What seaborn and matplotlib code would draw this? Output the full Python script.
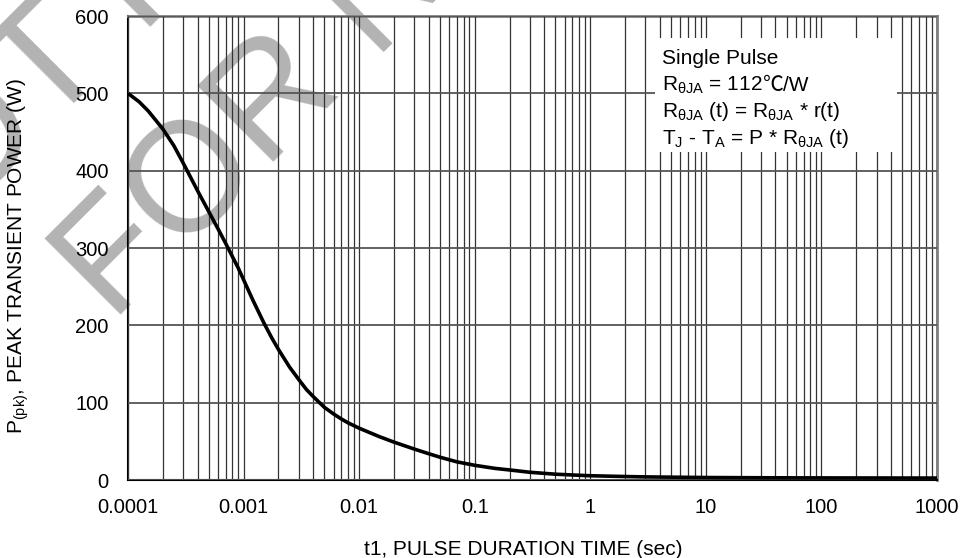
import matplotlib
matplotlib.use("Agg")
import matplotlib.pyplot as plt
import matplotlib.patches as mpatches
import numpy as np
import pandas as pd
import seaborn as sns

# ---- data ----
pulse_time = [1e-4, 1.25e-4, 1.5e-4, 2e-4, 2.5e-4, 3e-4, 4e-4, 5e-4, 6e-4, 7e-4,
              8e-4, 9e-4, 1e-3, 1.2e-3, 1.5e-3, 1.75e-3, 2e-3, 2.5e-3, 3e-3, 3.5e-3,
              4e-3, 5e-3, 6e-3, 7e-3, 8e-3, 1e-2, 1.5e-2, 2e-2, 3e-2, 4e-2,
              5e-2, 7e-2, 0.1, 0.15, 0.2, 0.3, 0.5, 0.7, 1, 2, 3, 10, 30, 100, 1000]
peak_power = [500, 489, 477, 454, 432, 410, 374, 347, 325, 306,
              289, 274, 259, 233, 203, 184, 169, 146, 130, 117,
              108, 94, 85.5, 79, 74, 67, 56, 49, 40, 34,
              29.5, 23.5, 19, 15, 13, 10, 7.5, 6.5, 5.5, 4.5, 4, 3.2, 2.9, 2.7, 2.5]
xtick_values = [1e-4, 1e-3, 1e-2, 1e-1, 1, 10, 100, 1000]
xtick_labels = ["0.0001", "0.001", "0.01", "0.1", "1", "10", "100", "1000"]
ytick_values = [0, 100, 200, 300, 400, 500, 600]
info_line1 = "Single Pulse"
info_line2_parts = ["R$_{\\mathrm{θJA}}$ = 112", "℃", "/W"]
info_line3 = "R$_{\\mathrm{θJA}}$ (t) = R$_{\\mathrm{θJA}}$ * r(t)"
info_line4 = "T$_{\\mathrm{J}}$ - T$_{\\mathrm{A}}$ = P * R$_{\\mathrm{θJA}}$ (t)"
watermark_lines = ["NOT RECOMMENDED", "FOR NEW DESIGN"]
x_label = "t1, PULSE DURATION TIME (sec)"
y_label = "P$_{\\mathrm{(pk)}}$, PEAK TRANSIENT POWER (W)"

df = pd.DataFrame({"t": pulse_time, "P": peak_power})

sns.set_theme(style="white")
plt.rcParams["font.family"] = ["Liberation Sans", "DejaVu Sans"]
plt.rcParams["mathtext.fontset"] = "custom"
plt.rcParams["mathtext.rm"] = "Liberation Sans"
plt.rcParams["mathtext.it"] = "Liberation Sans:italic"
plt.rcParams["mathtext.bf"] = "Liberation Sans:bold"

W, H = 962, 558
fig = plt.figure(figsize=(W / 100, H / 100), dpi=100, facecolor="white")
ax = fig.add_axes([128 / W, 1 - 480 / H, (937 - 128) / W, (480 - 16) / H])
ax.set_facecolor("none")

# watermark (behind the axes)
wm_color = "#b3b3b3"
fig.text(-118 / W, 1 - 297 / H, watermark_lines[0], rotation=45, rotation_mode="anchor",
         ha="left", va="baseline", fontsize=112, color=wm_color, zorder=-5)
fig.text(113 / W, 1 - 324 / H, watermark_lines[1], rotation=45, rotation_mode="anchor",
         ha="left", va="baseline", fontsize=112, color=wm_color, zorder=-5)

sns.lineplot(data=df, x="t", y="P", ax=ax, color="black", linewidth=2.6, zorder=5)
for ln in ax.get_lines():
    ln.set_solid_joinstyle("round")
    ln.set_solid_capstyle("butt")

ax.set_xscale("log")
ax.set_xlim(1e-4, 1000)
ax.set_ylim(0, 600)
ax.set_xticks(xtick_values, labels=xtick_labels)
ax.set_yticks(ytick_values)
ax.set_xlabel("")
ax.set_ylabel("")

ax.grid(True, which="both", axis="x", color="#333333", linewidth=0.9)
ax.grid(True, which="major", axis="y", color="#555555", linewidth=1.3)
ax.set_axisbelow(False)

ax.tick_params(axis="x", which="both", length=0, pad=13, labelsize=14.5, colors="black")
ax.tick_params(axis="y", which="major", direction="in", length=5, width=1.5,
               pad=14, labelsize=14.5, colors="black")
ax.tick_params(axis="y", which="minor", length=0)

for s in ["left", "bottom"]:
    ax.spines[s].set_color("black")
    ax.spines[s].set_linewidth(1.5)
for s in ["top", "right"]:
    ax.spines[s].set_color("#808080")
    ax.spines[s].set_linewidth(2)

# info box
x0, x1 = (655 - 128) / 809, (897 - 128) / 809
y0, y1 = (480 - 152) / 464, (480 - 38) / 464
ax.add_patch(mpatches.Rectangle((x0, y0), x1 - x0, y1 - y0, transform=ax.transAxes,
                                facecolor="white", edgecolor="none", zorder=6))
tx = (662 - 128) / 809
ys = [(480 - b) / 464 for b in [64, 90.7, 117.3, 144]]
fs = 15
ax.text(tx, ys[0], info_line1, transform=ax.transAxes, ha="left", va="baseline",
        fontsize=fs, color="black", zorder=7)
ta = ax.text(tx, ys[1], info_line2_parts[0], transform=ax.transAxes, ha="left",
             va="baseline", fontsize=fs, color="black", zorder=7)
tb = ax.annotate(info_line2_parts[1], xy=(1, ys[1]), xycoords=(ta, ax.transAxes),
                 ha="left", va="baseline", fontsize=fs, color="black", zorder=7,
                 family=["Noto Sans CJK SC", "DejaVu Sans"])
ax.annotate(info_line2_parts[2], xy=(1, ys[1]), xycoords=(tb, ax.transAxes),
            ha="left", va="baseline", fontsize=fs, color="black", zorder=7)
ax.text(tx, ys[2], info_line3, transform=ax.transAxes, ha="left", va="baseline",
        fontsize=fs, color="black", zorder=7)
ax.text(tx, ys[3], info_line4, transform=ax.transAxes, ha="left", va="baseline",
        fontsize=fs, color="black", zorder=7)

fig.text(523 / W, 1 - 555 / H, x_label, ha="center", va="baseline", fontsize=15,
         color="black")
fig.text(18 / W, 1 - 256 / H, y_label, rotation=90, ha="center", va="center",
         fontsize=15, color="black")

fig.savefig("out.png", dpi=100, facecolor="white")
